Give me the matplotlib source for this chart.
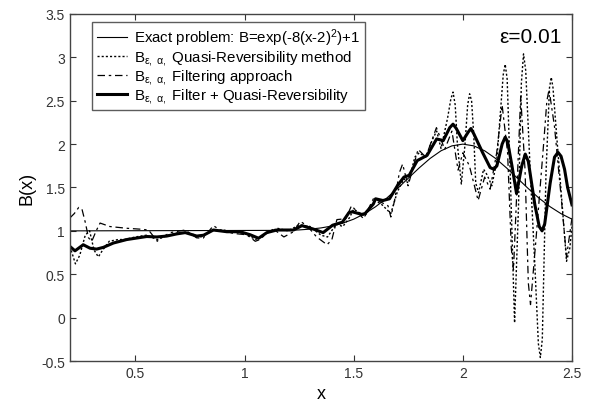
import matplotlib
matplotlib.use("Agg")
import matplotlib.pyplot as plt

plt.rcParams['font.family'] = ['Liberation Sans', 'DejaVu Sans']
plt.rcParams['mathtext.fontset'] = 'custom'
plt.rcParams['mathtext.rm'] = 'Liberation Sans'
plt.rcParams['mathtext.it'] = 'Liberation Sans'

# --- exact solution B = exp(-8(x-2)^2)+1 ---
x_exact = [0.2, 1.2, 1.25, 1.3, 1.35, 1.4, 1.45, 1.5, 1.55, 1.6, 1.65, 1.7, 1.75,
           1.8, 1.85, 1.9, 1.95, 2.0, 2.05, 2.1, 2.15, 2.2, 2.25, 2.3, 2.35,
           2.4, 2.45, 2.5]
y_exact = [1.0, 1.006, 1.011, 1.020, 1.034, 1.056, 1.089, 1.135, 1.198, 1.278,
           1.375, 1.487, 1.607, 1.726, 1.835, 1.923, 1.980, 2.0, 1.980, 1.923,
           1.835, 1.726, 1.607, 1.487, 1.375, 1.278, 1.198, 1.135]

# --- quasi-reversibility (dotted) ---
x_qr = [0.2, 0.225, 0.245, 0.27, 0.29, 0.31, 0.33, 0.35, 0.38, 0.42, 0.45, 0.5,
        0.55, 0.6, 0.65, 0.7, 0.75, 0.8, 0.85, 0.9, 0.95, 1.0, 1.05, 1.1, 1.15,
        1.2, 1.25, 1.3, 1.35, 1.38, 1.42, 1.45, 1.48, 1.5, 1.55, 1.6, 1.63,
        1.65, 1.67, 1.7, 1.73, 1.75, 1.78, 1.8, 1.83, 1.86, 1.88, 1.9, 1.93,
        1.945, 1.955, 1.965, 1.975, 1.993, 2.01, 2.022, 2.031, 2.04, 2.05,
        2.059, 2.072, 2.095, 2.11, 2.133, 2.155, 2.171, 2.185, 2.194, 2.203,
        2.217, 2.237, 2.255, 2.268, 2.278, 2.288, 2.309, 2.33, 2.346, 2.355,
        2.364, 2.381, 2.397, 2.405, 2.413, 2.431, 2.455, 2.475, 2.49, 2.5]
y_qr = [0.82, 0.62, 0.72, 0.95, 1.0, 0.78, 0.70, 0.78, 0.88, 0.90, 0.90, 0.93,
        0.95, 0.90, 0.95, 0.98, 0.97, 0.93, 1.0, 1.01, 0.99, 0.97, 0.90, 0.97,
        1.03, 1.0, 1.07, 1.05, 0.95, 0.93, 1.08, 1.05, 1.15, 1.25, 1.17, 1.35,
        1.30, 1.25, 1.20, 1.45, 1.60, 1.55, 1.85, 1.90, 1.85, 2.05, 2.15, 1.95,
        2.30, 2.52, 2.60, 2.45, 2.00, 1.54, 2.00, 2.45, 2.58, 2.50, 2.10,
        1.55, 1.44, 1.71, 1.65, 1.52, 1.80, 2.33, 2.80, 2.92, 2.75,
        1.67, -0.06, 1.29, 2.70, 3.04, 2.85, 1.67, 0.60, -0.30, -0.46,
        -0.25, 1.67, 2.65, 2.77, 2.65, 2.06, 1.30, 0.65, 0.80, 1.05]

# --- filtering approach (dash-dot) ---
x_flt = [0.2, 0.22, 0.24, 0.255, 0.27, 0.285, 0.3, 0.32, 0.338, 0.383, 0.46,
         0.52, 0.56, 0.6, 0.613, 0.66, 0.728, 0.78, 0.81, 0.857, 0.888, 0.95,
         1.01, 1.049, 1.07, 1.11, 1.133, 1.18, 1.224, 1.255, 1.286, 1.33,
         1.378, 1.40, 1.423, 1.463, 1.49, 1.545, 1.59, 1.61, 1.657, 1.67,
         1.687, 1.709, 1.724, 1.749, 1.795, 1.83, 1.879, 1.917, 1.95, 1.978,
         2.0, 2.03, 2.07, 2.1, 2.125, 2.155, 2.18, 2.205, 2.222, 2.232, 2.248,
         2.265, 2.285, 2.3, 2.31, 2.335, 2.37, 2.385, 2.395, 2.42, 2.45, 2.475,
         2.5]
y_flt = [1.15, 1.20, 1.27, 1.25, 1.10, 0.92, 0.88, 1.0, 1.09, 1.05, 1.03,
         1.02, 1.01, 0.88, 0.915, 0.98, 1.01, 0.92, 0.915, 1.06, 1.01, 0.97,
         0.955, 0.88, 0.90, 0.99, 1.02, 0.93, 0.99, 1.11, 1.06, 0.93,
         0.84, 0.90, 1.13, 1.14, 1.29, 1.14, 1.37, 1.35, 1.29, 1.16,
         1.35, 1.67, 1.77, 1.52, 1.94, 1.85, 2.19, 1.94, 2.15, 1.70,
         1.90, 1.75, 1.35, 1.62, 1.48, 1.90, 2.45, 1.90, 0.80, 0.55, 1.50,
         2.55, 1.70, 0.40, 0.15, 0.90, 2.00, 2.50, 2.63, 2.20, 1.40, 0.70,
         1.15]

# --- filter + quasi-reversibility (bold) ---
x_fqr = [0.2, 0.223, 0.261, 0.292, 0.322, 0.353, 0.399, 0.46, 0.552, 0.598,
         0.643, 0.689, 0.728, 0.781, 0.812, 0.857, 0.919, 0.98, 1.026, 1.064,
         1.102, 1.148, 1.224, 1.263, 1.316, 1.36, 1.403, 1.448, 1.478, 1.493,
         1.537, 1.552, 1.59, 1.60, 1.634, 1.664, 1.70, 1.73, 1.754, 1.791,
         1.836, 1.88, 1.91, 1.94, 1.955, 1.97, 2.0, 2.025, 2.037, 2.05, 2.09,
         2.125, 2.142, 2.156, 2.18, 2.194, 2.205, 2.225, 2.246, 2.27, 2.286,
         2.3, 2.33, 2.35, 2.363, 2.375, 2.40, 2.42, 2.436, 2.45, 2.466, 2.48,
         2.5]
y_fqr = [0.82, 0.77, 0.84, 0.80, 0.79, 0.81, 0.86, 0.90, 0.935, 0.93,
         0.94, 0.965, 0.98, 0.94, 0.95, 1.01, 0.99, 0.99, 0.955, 0.915,
         0.98, 1.01, 1.01, 1.06, 1.02, 0.98, 1.065, 1.10, 1.21, 1.22,
         1.19, 1.20, 1.31, 1.37, 1.35, 1.37, 1.52, 1.62, 1.64, 1.81,
         1.87, 2.06, 2.04, 2.19, 2.23, 2.18, 2.04, 2.14, 2.18, 2.12, 1.905,
         1.73, 1.71, 1.75, 2.00, 2.08, 2.03, 1.75, 1.43, 1.75, 1.885,
         1.80, 1.30, 1.05, 1.0, 1.08, 1.55, 1.85, 1.905, 1.86, 1.71, 1.50,
         1.30]

x_ticks = [0.5, 1, 1.5, 2, 2.5]
y_ticks = [-0.5, 0, 0.5, 1, 1.5, 2, 2.5, 3, 3.5]

fig = plt.figure(figsize=(5.96, 4.02), dpi=100)
ax = fig.add_axes([0.1174, 0.0995, 0.8423, 0.8632])

ax.plot(x_exact, y_exact, color='black', linewidth=0.8,
        label='Exact problem: B=exp(-8(x-2)$^2$)+1')
ax.plot(x_qr, y_qr, color='black', linewidth=1.0, linestyle=(0, (1.5, 1.5)),
        label=r'B$_{\mathrm{ε,\ α,}}$ Quasi-Reversibility method')
ax.plot(x_flt, y_flt, color='black', linewidth=0.9, linestyle=(0, (6, 3, 2, 3)),
        label=r'B$_{\mathrm{ε,\ α,}}$ Filtering approach')
ax.plot(x_fqr, y_fqr, color='black', linewidth=2.2, solid_joinstyle='round',
        label=r'B$_{\mathrm{ε,\ α,}}$ Filter + Quasi-Reversibility')

ax.set_xlim(0.2, 2.5)
ax.set_ylim(-0.5, 3.5)
ax.set_xticks(x_ticks)
ax.set_xticklabels(['0.5', '1', '1.5', '2', '2.5'])
ax.set_yticks(y_ticks)
ax.set_yticklabels(['-0.5', '0', '0.5', '1', '1.5', '2', '2.5', '3', '3.5'])
ax.tick_params(direction='in', top=True, right=True, labelsize=10,
               length=4, colors='#333333')
for s in ax.spines.values():
    s.set_color('#444444')
    s.set_linewidth(1.0)

ax.set_xlabel('x', fontsize=13, labelpad=4)
ax.set_ylabel('B(x)', fontsize=13, labelpad=4)

ax.text(0.918, 0.935, 'ε=0.01', transform=ax.transAxes, fontsize=15,
        ha='center', va='center')

leg = ax.legend(loc='upper left', bbox_to_anchor=(0.044, 0.977), borderaxespad=0,
                fontsize=10.8, frameon=True, fancybox=False, edgecolor='#333333',
                handlelength=2.0, handletextpad=0.5, labelspacing=0.0,
                borderpad=0.3)
leg.get_frame().set_linewidth(1.0)

fig.savefig('out.png', dpi=100)
